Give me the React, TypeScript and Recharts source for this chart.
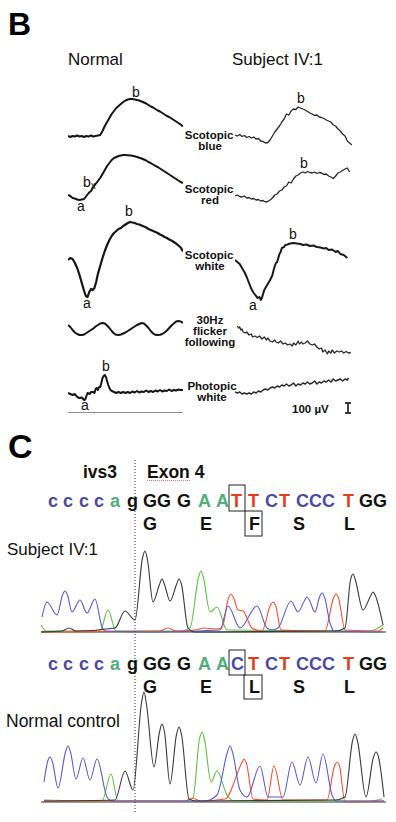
import React from 'react';
import { LineChart, Line, XAxis, YAxis, ReferenceLine } from 'recharts';

type Pt = [number, number];

const FONT = '"Liberation Sans", Arial, Helvetica, sans-serif';

// ERG traces: [time ms, amplitude µV]
const ERG_TICKS = [0, 10, 20, 30, 40, 50, 60, 70, 80, 90, 100];

const normalBlue: Pt[] = [[0,0],[2,-10],[4,0],[6,-5],[8,5],[10,-5],[12,0],[14,-10],[16,0],[18,-5],[20,5],[22,-5],[24,0],[26,5],[28,10],[30,50],[32,100],[34,140],[36,180],[38,220],[40,250],[42,280],[44,300],[46,320],[48,340],[50,355],[52,365],[54,370],[56,370],[58,365],[60,360],[62,355],[64,345],[66,335],[68,325],[70,310],[72,295],[74,285],[76,270],[78,255],[80,245],[82,230],[84,215],[86,200],[88,190],[90,175],[92,160],[94,145],[96,130],[98,115],[100,95]];
const normalRed: Pt[] = [[0,0],[2,-10],[4,-30],[6,-35],[8,-45],[10,-50],[12,-45],[14,-40],[16,-10],[18,20],[20,40],[22,80],[24,110],[26,140],[28,170],[30,210],[32,250],[34,290],[36,320],[38,350],[40,370],[42,380],[44,390],[46,395],[48,400],[50,400],[52,398],[54,395],[56,392],[58,388],[60,380],[62,372],[64,365],[66,355],[68,345],[70,330],[72,318],[74,305],[76,292],[78,280],[80,265],[82,250],[84,235],[86,220],[88,205],[90,190],[92,175],[94,160],[96,145],[98,130],[100,120]];
const normalWhite: Pt[] = [[0,0],[2,20],[4,10],[6,-30],[8,-80],[10,-150],[12,-230],[14,-310],[15.5,-360],[17,-370],[18.5,-320],[20,-290],[21.5,-300],[23,-280],[24.5,-220],[26,-140],[28,-60],[30,20],[32,90],[34,150],[36,200],[38,240],[40,270],[42,290],[44,310],[46,320],[48,340],[50,355],[52,370],[54,380],[56,375],[58,370],[60,360],[62,355],[64,345],[66,335],[68,325],[70,310],[72,300],[74,290],[76,280],[78,270],[80,255],[82,245],[84,230],[86,220],[88,205],[90,195],[92,180],[94,165],[96,145],[98,125],[100,85]];
const normalFlicker: Pt[] = [[0,50],[2,30],[4,0],[6,-25],[8,-40],[10,-50],[12,-50],[14,-45],[16,-30],[18,-15],[20,0],[22,15],[24,35],[26,50],[28,65],[30,70],[32,65],[34,45],[36,20],[38,-10],[40,-35],[42,-48],[44,-50],[46,-45],[48,-35],[50,-25],[52,-10],[54,5],[56,20],[58,35],[60,50],[62,60],[64,70],[66,65],[68,45],[70,20],[72,-10],[74,-35],[76,-48],[78,-50],[80,-48],[82,-40],[84,-25],[86,-5],[88,20],[90,45],[92,65],[94,85],[96,90],[98,85],[100,70]];
const normalPhotopic: Pt[] = [[0,-30],[2,-40],[4,-50],[6,-40],[8,-70],[10,-80],[12,-75],[14,-100],[15,-95],[16,-60],[17,-30],[19,-40],[20,-20],[22,-20],[23,-30],[24,10],[25,20],[26,0],[27,30],[28,30],[29,70],[30,120],[31,140],[32,150],[33,130],[34,90],[35,50],[36,20],[37,0],[38,-10],[40,-20],[42,-30],[44,-20],[46,-30],[48,-20],[50,-30],[52,-20],[54,-30],[56,-15],[58,-25],[60,-10],[62,-25],[64,-15],[66,-20],[68,-5],[70,-20],[72,-10],[74,-20],[76,-5],[78,-15],[80,0],[82,-15],[84,-5],[86,-10],[88,5],[90,-10],[92,0],[94,-5],[96,5],[98,0],[100,0]];

const subjBlue: Pt[] = [[0,20],[2,10],[4,25],[6,5],[8,15],[10,-5],[12,5],[14,-10],[16,0],[18,-20],[20,-15],[22,-40],[24,-45],[26,-60],[28,-55],[30,-30],[32,10],[34,50],[36,80],[38,110],[40,150],[42,180],[44,230],[46,220],[48,260],[50,280],[52,275],[54,300],[56,290],[58,280],[60,270],[62,255],[64,240],[66,230],[68,215],[70,220],[72,200],[74,195],[76,185],[78,170],[80,160],[82,150],[84,120],[86,110],[88,80],[90,60],[92,30],[94,10],[96,-40],[98,-60],[100,-80]];
const subjRed: Pt[] = [[0,0],[2,10],[4,-5],[6,-10],[8,0],[10,-20],[12,-15],[14,-30],[16,-25],[18,-40],[20,-35],[22,-50],[24,-45],[26,-60],[28,-55],[30,-40],[32,-20],[34,10],[36,20],[38,50],[40,60],[42,90],[44,100],[46,140],[48,130],[50,170],[52,200],[54,210],[56,230],[58,240],[60,230],[62,245],[64,235],[66,230],[68,240],[70,225],[72,235],[74,230],[76,215],[78,220],[80,200],[82,190],[84,175],[86,200],[88,230],[90,240],[92,255],[94,270],[96,280],[98,240]];
const subjWhite: Pt[] = [[0,0],[2,-20],[4,-40],[6,-80],[8,-120],[10,-170],[12,-230],[14,-290],[16,-330],[18,-360],[19.5,-380],[21,-370],[22,-400],[23,-380],[24,-340],[25,-300],[26,-280],[28,-240],[29,-220],[30,-200],[32,-150],[33,-100],[34,-60],[35,-30],[36,-20],[37,20],[38,60],[39,80],[40,120],[42,130],[43,150],[45,155],[47,165],[50,170],[53,165],[56,160],[58,150],[61,155],[64,140],[67,145],[70,130],[73,125],[76,115],[78,120],[80,100],[83,105],[86,80],[88,90],[90,60],[93,50],[96,20]];
const subjFlicker: Pt[] = [[2,40],[3,20],[4,30],[5,0],[6,10],[7,-20],[9,-30],[10,-20],[12,-50],[14,-40],[15,-70],[17,-60],[19,-75],[21,-60],[23,-90],[25,-70],[27,-100],[28,-80],[30,-110],[32,-120],[34,-100],[35,-120],[37,-130],[39,-110],[41,-140],[43,-130],[45,-150],[47,-140],[49,-160],[50,-130],[52,-150],[54,-110],[55,-140],[57,-120],[58,-140],[60,-130],[62,-110],[64,-140],[66,-150],[68,-140],[70,-170],[72,-190],[74,-180],[75,-220],[77,-200],[79,-240],[80,-210],[82,-230],[83,-200],[85,-230],[87,-210],[89,-220],[91,-210],[93,-230],[95,-215],[97,-230],[99,-225]];
const subjPhotopic: Pt[] = [[0,0],[2,-10],[4,0],[6,-20],[8,-10],[10,-20],[12,-10],[14,-20],[16,0],[18,-10],[20,10],[22,0],[24,20],[26,30],[28,20],[30,40],[32,50],[34,40],[36,60],[38,50],[40,70],[42,60],[44,80],[46,60],[48,70],[50,90],[52,60],[54,80],[56,70],[58,90],[60,80],[62,100],[64,80],[66,90],[68,110],[70,80],[72,100],[74,90],[76,110],[78,100],[80,120],[82,100],[84,130],[86,110],[88,120],[90,130],[92,110],[94,130],[96,120],[97,140]];

// Chromatograms: [scan, signal]
const subjC: Pt[] = [[1,300],[6,600],[16,340],[21.5,740],[24,820],[26.5,740],[31,400],[39,640],[46,380],[54,660],[61,100],[64,20],[109,0],[179,40],[187,520],[199,80],[216,520],[226,80],[231,40],[237,80],[250,620],[257,400],[263.5,630],[266,700],[268.5,630],[274,400],[278.5,700],[281,780],[283.5,700],[289,180],[293,20],[342,0]];
const subjA: Pt[] = [[0,140],[5,20],[59,20],[67,440],[75,20],[139,20],[149,80],[157.5,1090],[160,1220],[162.5,1080],[169,400],[176,500],[186,40],[329,20],[342,140]];
const subjG: Pt[] = [[0,0],[21,20],[28,80],[35,20],[74,80],[84,420],[94,240],[101.5,1480],[104,1620],[106.5,1440],[112,600],[118.5,950],[121,1060],[123.5,950],[129,620],[135.5,950],[138,1060],[140.5,950],[147,80],[154,0],[294,20],[304,80],[309.5,1040],[312,1160],[314.5,1030],[322,440],[329.5,720],[332,800],[334.5,720],[342,140]];
const subjT: Pt[] = [[0,0],[119,20],[127,80],[135,20],[154,40],[164,80],[174,60],[181,80],[187.5,680],[190,760],[192.5,690],[197,440],[202,420],[211,80],[221,20],[229.5,540],[232,600],[234.5,540],[240,40],[284,20],[292.5,680],[295,760],[297.5,680],[304,40],[337,20],[342,80]];

const ctrlC: Pt[] = [[3,400],[6.5,800],[9,900],[11.5,800],[17,280],[24.5,1000],[27,1120],[29.5,1000],[35,460],[42,880],[49,440],[56,860],[66,100],[71,20],[164,20],[176,140],[186.5,1000],[189,1120],[191.5,1000],[199,240],[206,100],[219,720],[227,100],[242,100],[251,800],[259,340],[267,900],[275,380],[282,960],[291,140],[295,20],[343,20]];
const ctrlA: Pt[] = [[3,40],[61,20],[70,560],[77,20],[144,20],[152,80],[158.5,1260],[161,1400],[163.5,1250],[170,400],[176,620],[186,140],[194,20],[329,20],[341,60]];
const ctrlG: Pt[] = [[3,20],[74,40],[84,620],[92,240],[100.5,1980],[103,2200],[105.5,1950],[113,700],[118.5,1400],[121,1560],[123.5,1400],[129,360],[135.5,1350],[138,1500],[140.5,1350],[148,60],[155,20],[294,40],[304,100],[311.5,1220],[314,1360],[316.5,1220],[325,100],[332.5,900],[335,1000],[337.5,900],[343,100]];
const ctrlT: Pt[] = [[3,20],[144,20],[152,80],[159,20],[184,60],[200.5,770],[203,860],[205.5,770],[212,60],[226,40],[233,720],[242,40],[286,40],[293.5,720],[296,800],[298.5,720],[304,0],[343,20]];

// sequence text
const subjBases = ['c', 'c', 'c', 'c', 'a', 'g', 'GG', 'G', 'A', 'A', 'T', 'T', 'C', 'T', 'CCC', 'T', 'GG'];
const ctrlBases = ['c', 'c', 'c', 'c', 'a', 'g', 'GG', 'G', 'A', 'A', 'C', 'T', 'C', 'T', 'CCC', 'T', 'GG'];
const subjAmino = ['G', 'E', 'F', 'S', 'L'];
const ctrlAmino = ['G', 'E', 'L', 'S', 'L'];

const baseX = [48, 63, 79, 94, 110, 127, 143, 177, 198, 216, 231, 248, 265, 279, 296, 343, 359];
const aminoX = [143, 200, 249, 293, 344];

const baseColor: Record<string, string> = { c: '#4a4aa6', a: '#4fae78', g: '#111', t: '#e63c1e' };
const traceColor = { C: '#5b5bd0', A: '#5fc243', G: '#3a3a3a', T: '#ff4f2e' };

function ErgTrace({ pts, x, base, w, color, sw, lo = -500, hi = 1000, axis = false }:
  { pts: Pt[]; x: number; base: number; w: number; color: string; sw: number; lo?: number; hi?: number; axis?: boolean }) {
  const h = (hi - lo) / 10;
  const data = pts.map(([ms, uv]) => ({ ms, uv }));
  return (
    <div style={{ position: 'absolute', left: x, top: base - hi / 10, width: w, height: h }}>
      <LineChart width={w} height={h} data={data} margin={{ top: 0, right: 0, bottom: 0, left: 0 }}>
        <XAxis dataKey="ms" type="number" domain={[0, 100]} allowDataOverflow hide={!axis} mirror
          ticks={ERG_TICKS} tick={false} tickSize={4}
          axisLine={{ stroke: '#222', strokeWidth: 1.2 }} tickLine={{ stroke: '#222', strokeWidth: 1 }} />
        <YAxis type="number" domain={[lo, hi]} hide allowDataOverflow />
        <Line dataKey="uv" type="linear" stroke={color} strokeWidth={sw} dot={false}
          strokeLinejoin="round" isAnimationActive={false} />
      </LineChart>
    </div>
  );
}

function Chromatogram({ top, hi, channels }: { top: number; hi: number; channels: { pts: Pt[]; color: string }[] }) {
  const h = (hi + 100) / 20;
  return (
    <div style={{ position: 'absolute', left: 41, top, width: 345, height: h }}>
      <LineChart width={345} height={h} margin={{ top: 0, right: 0, bottom: 0, left: 0 }}>
        <XAxis dataKey="scan" type="number" domain={[0, 345]} allowDataOverflow hide />
        <YAxis type="number" domain={[-100, hi]} allowDataOverflow hide />
        <ReferenceLine y={0} stroke="#9a9a9a" strokeWidth={2} />
        {channels.map((c, i) => (
          <Line key={i} data={c.pts.map(([scan, v]) => ({ scan, v }))} dataKey="v" type="monotone"
            stroke={c.color} strokeWidth={1.1} dot={false} isAnimationActive={false} />
        ))}
      </LineChart>
    </div>
  );
}

function SeqRow({ bases, amino, y, ya }: { bases: string[]; amino: string[]; y: number; ya: number }) {
  return (
    <g fontFamily={FONT} fontWeight={700} fontSize={18}>
      {bases.map((b, i) => (
        <text key={i} x={baseX[i]} y={y} fill={baseColor[b[0].toLowerCase()]}>{b}</text>
      ))}
      {amino.map((a, i) => (
        <text key={'a' + i} x={aminoX[i]} y={ya} fill="#111">{a}</text>
      ))}
    </g>
  );
}

export default function App() {
  const lbl = { fontFamily: FONT, fontWeight: 700, fontSize: 11.5, textAnchor: 'middle' as const, fill: '#111' };
  const pk = { fontFamily: FONT, fontSize: 14, fill: '#111' };
  return (
    <div style={{ position: 'absolute', left: 0, top: 0, width: 396, height: 822, background: '#fff', overflow: 'hidden' }}>
      <ErgTrace pts={normalBlue} x={68} base={136} w={115} color="#151515" sw={2} />
      <ErgTrace pts={normalRed} x={68} base={195} w={115} color="#151515" sw={2} />
      <ErgTrace pts={normalWhite} x={68} base={260} w={115} color="#151515" sw={2.2} />
      <ErgTrace pts={normalFlicker} x={68} base={330} w={115} color="#151515" sw={2} />
      <ErgTrace pts={normalPhotopic} x={68} base={390} w={115} color="#151515" sw={2} lo={-230} axis />

      <ErgTrace pts={subjBlue} x={235} base={137} w={117} color="#2a2a2a" sw={1.3} />
      <ErgTrace pts={subjRed} x={235} base={196} w={117} color="#2a2a2a" sw={1.3} />
      <ErgTrace pts={subjWhite} x={235} base={260} w={117} color="#1a1a1a" sw={2} />
      <ErgTrace pts={subjFlicker} x={235} base={330} w={117} color="#2a2a2a" sw={1.3} />
      <ErgTrace pts={subjPhotopic} x={235} base={392} w={117} color="#2a2a2a" sw={1.5} />

      <Chromatogram top={537} hi={1900} channels={[
        { pts: subjA, color: traceColor.A }, { pts: subjT, color: traceColor.T },
        { pts: subjC, color: traceColor.C }, { pts: subjG, color: traceColor.G }]} />
      <Chromatogram top={687} hi={2300} channels={[
        { pts: ctrlA, color: traceColor.A }, { pts: ctrlT, color: traceColor.T },
        { pts: ctrlC, color: traceColor.C }, { pts: ctrlG, color: traceColor.G }]} />

      <svg width={396} height={822} style={{ position: 'absolute', left: 0, top: 0, pointerEvents: 'none' }}>
        <text x={8} y={35} fontFamily={FONT} fontWeight={700} fontSize={32} fill="#000">B</text>
        <text x={68} y={65} fontFamily={FONT} fontSize={17} fill="#111">Normal</text>
        <text x={232} y={65} fontFamily={FONT} fontSize={17} fill="#111">Subject IV:1</text>

        <text x={209} y={139} {...lbl}>Scotopic</text>
        <text x={210} y={150} {...lbl}>blue</text>
        <text x={209} y={193} {...lbl}>Scotopic</text>
        <text x={210} y={204} {...lbl}>red</text>
        <text x={209} y={259} {...lbl}>Scotopic</text>
        <text x={210} y={270} {...lbl}>white</text>
        <text x={210} y={324} {...lbl}>30Hz</text>
        <text x={210} y={335} {...lbl}>flicker</text>
        <text x={210} y={346} {...lbl}>following</text>
        <text x={212} y={390} {...lbl}>Photopic</text>
        <text x={212} y={401} {...lbl}>white</text>

        <text x={132} y={97} {...pk}>b</text>
        <text x={83} y={187} {...pk}>b<tspan fontSize={10} dy={2}>x</tspan></text>
        <text x={77} y={211} {...pk}>a</text>
        <text x={125} y={216} {...pk}>b</text>
        <text x={83} y={308} {...pk}>a</text>
        <text x={102} y={371} {...pk}>b</text>
        <text x={81} y={410} {...pk}>a</text>
        <text x={297} y={103} {...pk}>b</text>
        <text x={300} y={168} {...pk}>b</text>
        <text x={289} y={239} {...pk}>b</text>
        <text x={249} y={310} {...pk}>a</text>

        <text x={292} y={413} fontFamily={FONT} fontWeight={700} fontSize={11.5} fill="#111">100 µV</text>
        <g stroke="#111" strokeWidth={1.6}>
          <line x1={348} y1={403} x2={348} y2={413} />
          <line x1={345} y1={403} x2={351} y2={403} />
          <line x1={345} y1={413} x2={351} y2={413} />
        </g>

        <text x={8} y={458} fontFamily={FONT} fontWeight={700} fontSize={34} fill="#000">C</text>
        <line x1={135} y1={460} x2={135} y2={812} stroke="#333" strokeWidth={1} strokeDasharray="1 2" />
        <text x={83} y={478} fontFamily={FONT} fontWeight={700} fontSize={17.5} fill="#111">ivs3</text>
        <text x={147} y={478} fontFamily={FONT} fontWeight={700} fontSize={17.5} fill="#111">Exon 4</text>
        <line x1={147} y1={480.5} x2={191} y2={480.5} stroke="#e07070" strokeWidth={1} strokeDasharray="1 1" />

        <SeqRow bases={subjBases} amino={subjAmino} y={507} ya={530} />
        <rect x={229} y={485} width={16} height={26} fill="none" stroke="#222" strokeWidth={1} />
        <rect x={245} y={511} width={17} height={25} fill="none" stroke="#222" strokeWidth={1} />
        <text x={7} y={555} fontFamily={FONT} fontSize={17} fill="#111">Subject IV:1</text>

        <SeqRow bases={ctrlBases} amino={ctrlAmino} y={670} ya={693} />
        <rect x={229} y={650} width={16} height={25} fill="none" stroke="#222" strokeWidth={1} />
        <rect x={244} y={675} width={18} height={24} fill="none" stroke="#222" strokeWidth={1} />
        <text x={6} y={727} fontFamily={FONT} fontSize={17.5} fill="#111">Normal control</text>
      </svg>
    </div>
  );
}
